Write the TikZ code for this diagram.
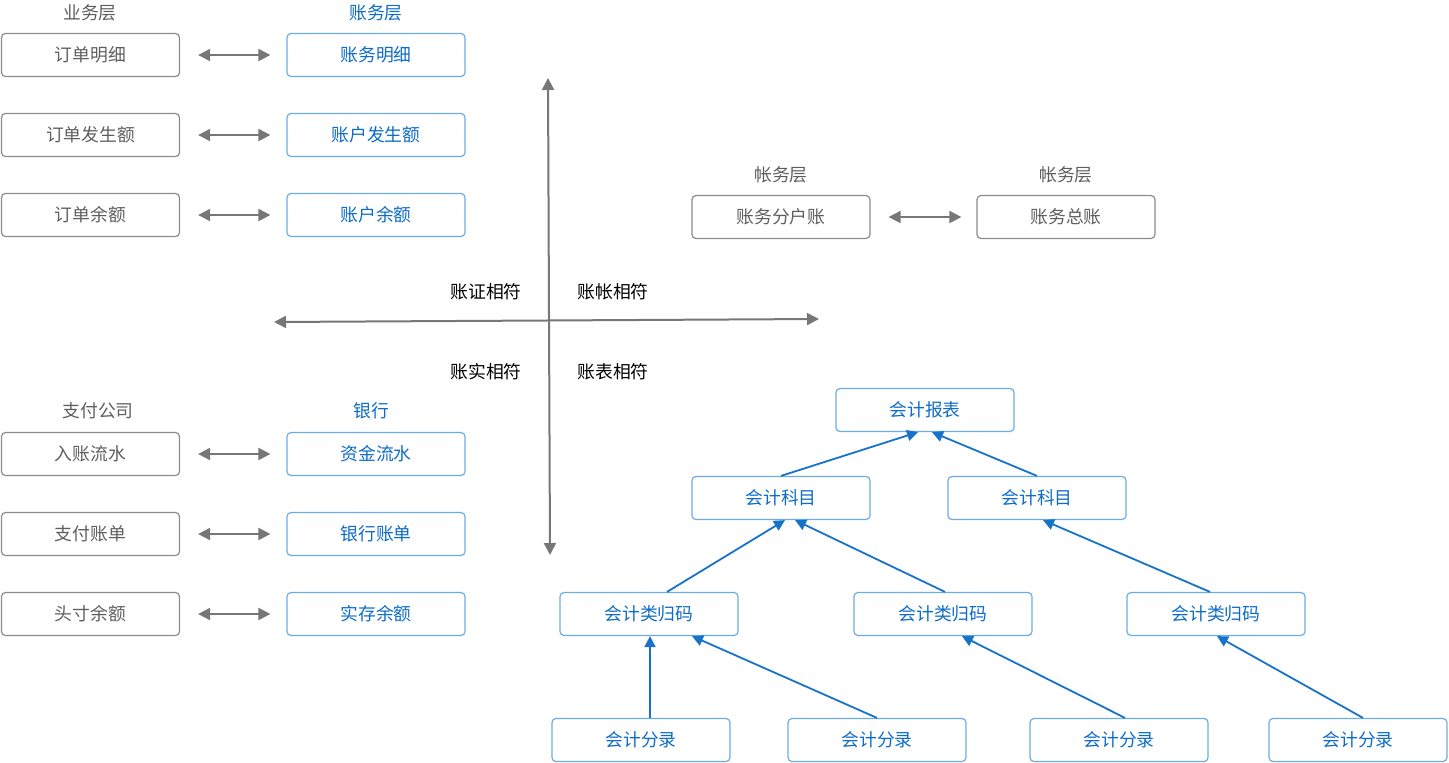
\documentclass[tikz,border=0pt]{standalone}
\usepackage{fontspec}
\setmainfont{Noto Sans CJK SC}
\usetikzlibrary{positioning}
\usetikzlibrary{arrows.meta}
\definecolor{txtgray}{HTML}{5E5E5E}
\definecolor{boxgray}{HTML}{8C8C8C}
\definecolor{arrgray}{HTML}{777777}
\definecolor{txtblue}{HTML}{0D6CC8}
\definecolor{boxblue}{HTML}{6CACE4}
\definecolor{arrblue}{HTML}{1673C9}

\begin{document}
\begin{tikzpicture}[x=1pt,y=-1pt,
  font=\fontsize{17.8}{21}\selectfont,
  graybox/.style={draw=boxgray,rounded corners=4pt,line width=1.2pt,minimum width=178pt,minimum height=43pt,text=txtgray},
  bluebox/.style={draw=boxblue,rounded corners=4pt,line width=1.2pt,minimum width=178pt,minimum height=43pt,text=txtblue},
  grayarrow/.style={draw=arrgray,line width=2pt,{Triangle[length=12pt,width=12pt]}-{Triangle[length=12pt,width=12pt]}},
  bluearrow/.style={draw=arrblue,line width=1.8pt,-{Triangle[length=11pt,width=11pt]}},
  quad/.style={text=black}]
 \useasboundingbox (0,0) rectangle (1449,763);
 % upper left: business layer vs. account layer
 \node[text=txtgray] (bizhead) at (90,13) {业务层};
 \node[text=txtblue] (acchead) at (376,13) {账务层};
 \node[graybox] (ord1) at (90.5,55) {订单明细};
 \node[graybox] (ord2) at (90.5,135) {订单发生额};
 \node[graybox] (ord3) at (90.5,215) {订单余额};
 \node[bluebox] (acc1) at (376,55) {账务明细};
 \node[bluebox] (acc2) at (376,135) {账户发生额};
 \node[bluebox] (acc3) at (376,215) {账户余额};
 \foreach \i in {1,2,3}
   \draw[grayarrow] ([xshift=18pt]ord\i.east) -- ([xshift=-16pt]acc\i.west);
 % lower left: payment company vs. bank
 \node[text=txtgray] (payhead) at (98,411) {支付公司};
 \node[text=txtblue] (bankhead) at (371,411) {银行};
 \node[graybox] (pay1) at (90.5,454) {入账流水};
 \node[graybox] (pay2) at (90.5,534) {支付账单};
 \node[graybox] (pay3) at (90.5,614) {头寸余额};
 \node[bluebox] (bank1) at (376,454) {资金流水};
 \node[bluebox] (bank2) at (376,534) {银行账单};
 \node[bluebox] (bank3) at (376,614) {实存余额};
 \foreach \i in {1,2,3}
   \draw[grayarrow] ([xshift=18pt]pay\i.east) -- ([xshift=-16pt]bank\i.west);
 % axes
 \coordinate (vtop) at (548,78);
 \coordinate (vbot) at (550,555);
 \coordinate (hleft) at (274,322);
 \coordinate (hright) at (819,319);
 \draw[grayarrow] (vtop) -- (vbot);
 \draw[grayarrow] (hleft) -- (hright);
 \node[quad] (q1) at (486,292) {账证相符};
 \node[quad] (q2) at (613,292) {账帐相符};
 \node[quad] (q3) at (486,372) {账实相符};
 \node[quad] (q4) at (613,372) {账表相符};
 % upper right: ledgers
 \node[text=txtgray] (ledhead1) at (781,175) {帐务层};
 \node[text=txtgray] (ledhead2) at (1066,175) {帐务层};
 \node[graybox] (subled) at (781,217) {账务分户账};
 \node[graybox] (genled) at (1066,217) {账务总账};
 \draw[grayarrow] ([xshift=18pt]subled.east) -- ([xshift=-15pt]genled.west);
 % lower right: report tree
 \node[bluebox] (report) at (925,410) {会计报表};
 \node[bluebox] (subj1) at (781,498) {会计科目};
 \node[bluebox] (subj2) at (1037,498) {会计科目};
 \node[bluebox] (cls1) at (649,614) {会计类归码};
 \node[bluebox] (cls2) at (943,614) {会计类归码};
 \node[bluebox] (cls3) at (1216,614) {会计类归码};
 \node[bluebox] (ent1) at (641,740) {会计分录};
 \node[bluebox] (ent2) at (877,740) {会计分录};
 \node[bluebox] (ent3) at (1119,740) {会计分录};
 \node[bluebox] (ent4) at (1358,740) {会计分录};
 \draw[bluearrow] (subj1.north) -- ([xshift=-7pt]report.south);
 \draw[bluearrow] (subj2.north) -- ([xshift=7pt]report.south);
 \draw[bluearrow] ([xshift=18pt]cls1.north) -- ([xshift=4pt]subj1.south);
 \draw[bluearrow] ([xshift=2pt]cls2.north) -- ([xshift=14pt]subj1.south);
 \draw[bluearrow] ([xshift=-6pt]cls3.north) -- ([xshift=6pt]subj2.south);
 \draw[bluearrow] ([xshift=9pt]ent1.north) -- ([xshift=1pt]cls1.south);
 \draw[bluearrow] (ent2.north) -- ([xshift=43pt]cls1.south);
 \draw[bluearrow] ([xshift=6pt]ent3.north) -- ([xshift=19pt]cls2.south);
 \draw[bluearrow] ([xshift=5pt]ent4.north) -- ([xshift=1pt]cls3.south);
\end{tikzpicture}
\end{document}
